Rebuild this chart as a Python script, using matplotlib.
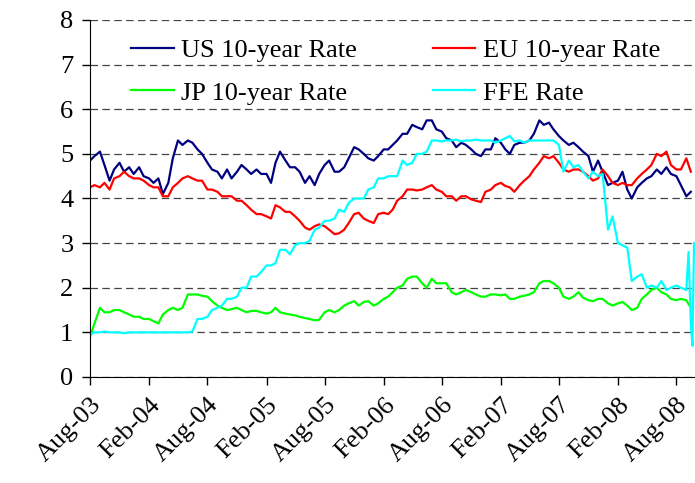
import numpy as np
import pandas as pd
import matplotlib
matplotlib.use('Agg')
import matplotlib.pyplot as plt
import matplotlib.dates as mdates

plt.rcParams['font.family'] = ['Liberation Serif', 'DejaVu Serif']

# semi-monthly sample dates (1st and 15th), Aug 2003 .. Sep 2008
dates = pd.date_range('2003-08-01', periods=124, freq='SMS')

us = [4.85, 4.95, 5.05, 4.75, 4.4, 4.65, 4.8, 4.6, 4.7, 4.55, 4.7, 4.5, 4.45, 4.35, 4.45, 4.1, 4.35, 4.9, 5.3, 5.2, 5.3,
      5.25, 5.1, 5.0, 4.8, 4.65, 4.6, 4.45, 4.65, 4.45, 4.6, 4.75, 4.65, 4.55, 4.65, 4.55, 4.55, 4.35, 4.8, 5.05, 4.85,
      4.7, 4.7, 4.6, 4.35, 4.5, 4.3, 4.55, 4.75, 4.85, 4.6, 4.6, 4.7, 4.9, 5.15, 5.1, 5.0, 4.9, 4.85, 4.95, 5.1,
      5.1, 5.2, 5.3, 5.45, 5.45, 5.65, 5.6, 5.55, 5.75, 5.75, 5.55, 5.5, 5.35, 5.3, 5.15, 5.25, 5.2, 5.1, 5.0, 4.95, 5.1,
      5.1, 5.35, 5.25, 5.1, 5.0, 5.2, 5.25, 5.25, 5.3, 5.45, 5.75, 5.65, 5.7, 5.55, 5.4, 5.3, 5.2, 5.25, 5.15, 5.05,
      4.95, 4.6, 4.85, 4.6, 4.3, 4.35, 4.4, 4.6, 4.2, 4.0, 4.25, 4.35, 4.45, 4.5, 4.65, 4.55, 4.7, 4.55, 4.5, 4.3, 4.05, 4.15]

eu = [4.25, 4.3, 4.25, 4.35, 4.2, 4.45, 4.5, 4.6, 4.5, 4.45, 4.45, 4.4, 4.3, 4.25, 4.25, 4.05, 4.05, 4.25, 4.35, 4.45, 4.5,
      4.45, 4.4, 4.4, 4.2, 4.2, 4.15, 4.05, 4.05, 4.05, 3.95, 3.95, 3.85, 3.75, 3.65, 3.65, 3.6, 3.55, 3.85, 3.8, 3.7,
      3.7, 3.6, 3.5, 3.35, 3.3, 3.38, 3.42, 3.38, 3.3, 3.2, 3.22, 3.3, 3.45, 3.65, 3.68, 3.55, 3.5, 3.45, 3.65, 3.68,
      3.65, 3.75, 3.95, 4.05, 4.2, 4.2, 4.18, 4.2, 4.25, 4.3, 4.2, 4.15, 4.05, 4.05, 3.95, 4.05, 4.05, 3.98, 3.95, 3.92, 4.15,
      4.2, 4.3, 4.35, 4.28, 4.25, 4.15, 4.3, 4.4, 4.5, 4.65, 4.8, 4.95, 4.9, 4.95, 4.8, 4.65, 4.6, 4.65, 4.65, 4.6,
      4.5, 4.4, 4.45, 4.65, 4.5, 4.35, 4.3, 4.35, 4.3, 4.3, 4.45, 4.55, 4.65, 4.75, 5.0, 4.95, 5.05, 4.75, 4.65, 4.65, 4.9, 4.6]

jp = [0.9, 1.2, 1.55, 1.45, 1.45, 1.5, 1.5, 1.45, 1.4, 1.35, 1.35, 1.3, 1.3, 1.25, 1.2, 1.4, 1.5, 1.55, 1.5, 1.55, 1.85,
      1.85, 1.85, 1.82, 1.8, 1.7, 1.6, 1.55, 1.5, 1.52, 1.55, 1.5, 1.45, 1.48, 1.48, 1.45, 1.42, 1.45, 1.55, 1.45, 1.42,
      1.4, 1.38, 1.35, 1.32, 1.3, 1.27, 1.28, 1.45, 1.5, 1.45, 1.5, 1.6, 1.65, 1.7, 1.6, 1.68, 1.7, 1.6, 1.65, 1.75,
      1.8, 1.9, 2.0, 2.05, 2.2, 2.25, 2.25, 2.1, 2.0, 2.2, 2.1, 2.1, 2.1, 1.9, 1.85, 1.9, 1.95, 1.9, 1.85, 1.8, 1.8,
      1.85, 1.85, 1.83, 1.85, 1.75, 1.75, 1.8, 1.82, 1.85, 1.9, 2.1, 2.15, 2.15, 2.1, 2.0, 1.8, 1.75, 1.8, 1.9, 1.78,
      1.72, 1.7, 1.75, 1.75, 1.65, 1.6, 1.65, 1.68, 1.6, 1.5, 1.55, 1.75, 1.85, 1.95, 2.0, 1.9, 1.85, 1.75, 1.72, 1.75, 1.72, 1.55]

ffe = [0.95, 1.0, 1.0, 1.02, 1.0, 1.0, 1.0, 0.98, 1.0, 1.0, 1.0, 1.0, 1.0, 1.0, 1.0, 1.0, 1.0, 1.0, 1.0, 1.0, 1.0,
       1.02, 1.3, 1.3, 1.35, 1.5, 1.55, 1.6, 1.75, 1.75, 1.8, 2.0, 2.0, 2.25, 2.25, 2.35, 2.5, 2.5, 2.55, 2.85, 2.85,
       2.75, 2.95, 3.0, 3.0, 3.05, 3.3, 3.35, 3.5, 3.5, 3.55, 3.75, 3.7, 3.9, 4.0, 4.0, 4.0, 4.2, 4.25, 4.45, 4.45,
       4.5, 4.5, 4.5, 4.85, 4.75, 4.8, 5.0, 5.0, 5.05, 5.3, 5.3, 5.28, 5.3, 5.3, 5.32, 5.28, 5.3, 5.3, 5.32, 5.3, 5.3,
       5.3, 5.25, 5.3, 5.35, 5.4, 5.28, 5.3, 5.25, 5.3, 5.3, 5.3, 5.3, 5.3, 5.3, 5.2, 4.6, 4.85, 4.7, 4.75, 4.6,
       4.45, 4.6, 4.5, 4.55, 3.3, 3.6, 3.0, 2.95, 2.9, 2.15, 2.25, 2.3, 2.0, 2.05, 2.0, 2.15, 1.95, 2.0, 2.05, 2.0, 1.95]
# last days of the FFE series (spikes at the right edge)
ffe_tail_dates = ['2008-09-08', '2008-09-15', '2008-09-20', '2008-09-25']
ffe_tail = [2.8, 1.2, 0.7, 3.0]

tick_dates = pd.date_range('2003-08-01', '2008-08-01', freq='6MS')

fig = plt.figure(figsize=(6.95, 4.83), dpi=100)
ax = fig.add_axes([0.1295, 0.2195, 0.8705, 0.7391])

ffe_dates = list(dates[:len(ffe)]) + list(pd.to_datetime(ffe_tail_dates))

l_us, = ax.plot(dates, us, color='#000080', lw=1.6, label='US 10-year Rate')
l_eu, = ax.plot(dates, eu, color='#FF0000', lw=1.6, label='EU 10-year Rate')
l_jp, = ax.plot(dates, jp, color='#00FF00', lw=1.6, label='JP 10-year Rate')
l_ffe, = ax.plot(ffe_dates, ffe + ffe_tail, color='#00FFFF', lw=1.6, label='FFE Rate')

ax.set_xlim(pd.Timestamp('2003-08-01'), pd.Timestamp('2008-09-28'))
ax.set_ylim(0, 8)
ax.set_yticks(range(0, 9))
ax.set_xticks(tick_dates)
ax.xaxis.set_major_formatter(mdates.DateFormatter('%b-%y'))
plt.setp(ax.get_xticklabels(), rotation=45, ha='right', rotation_mode='anchor')

ax.grid(axis='y', color='#444444', linestyle=(0, (6, 3.5)), lw=0.9)
ax.set_axisbelow(True)
ax.spines['top'].set_visible(False)
ax.spines['right'].set_visible(False)
ax.tick_params(labelsize=19, length=6, width=1, direction='out', pad=6)

# legend fills column-wise: US/JP in the first column, EU/FFE in the second
ax.legend([l_us, l_jp, l_eu, l_ffe], [l.get_label() for l in (l_us, l_jp, l_eu, l_ffe)],
          ncol=2, frameon=False, fontsize=19, loc='upper left', bbox_to_anchor=(0.029, 1.014),
          handlelength=1.6, handletextpad=0.3, columnspacing=2.85, labelspacing=0.72)

fig.savefig('out.png', dpi=100)
